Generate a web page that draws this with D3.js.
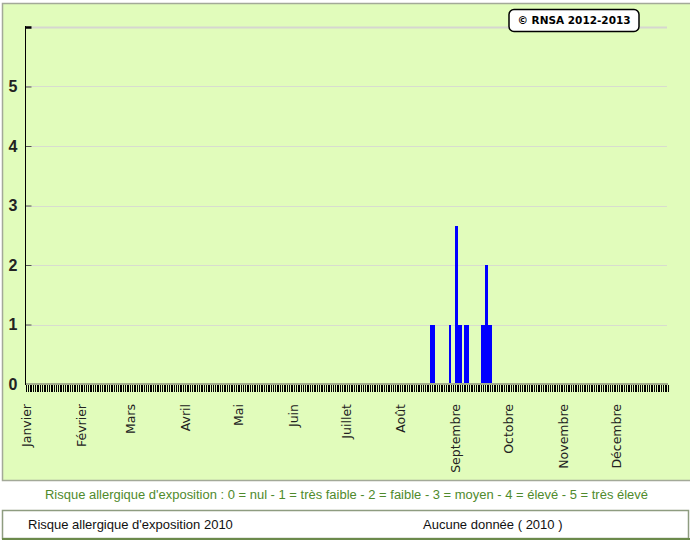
<!DOCTYPE html>
<html><head><meta charset="utf-8">
<script src="https://cdn.jsdelivr.net/npm/d3@7"></script>
<style>body{margin:0;background:#fff}svg{display:block}</style>
</head><body>
<svg id="c" width="690" height="541"></svg>
<script>
const yearStart = "2010-01-01", yearEnd = "2011-01-01";
const monthLabels = ["Janvier","Février","Mars","Avril","Mai","Juin","Juillet","Août","Septembre","Octobre","Novembre","Décembre"];
const riskDates = ["2010-08-18","2010-08-19","2010-08-20","2010-08-29","2010-09-01","2010-09-02","2010-09-03","2010-09-04","2010-09-06","2010-09-07","2010-09-08","2010-09-16","2010-09-17","2010-09-18","2010-09-19","2010-09-20","2010-09-21"];
const riskValues = [1,1,1,1,2.65,2.65,1,1,1,1,1,1,1,2,2,1,1];
const yTicks = [0,1,2,3,4,5,6];
const yTickLabels = ["0","1","2","3","4","5",""];
const legendText = "Risque allergique d'exposition : 0 = nul - 1 = très faible - 2 = faible - 3 = moyen - 4 = élevé - 5 = très élevé";
const footerLeft = "Risque allergique d'exposition 2010";
const footerRight = "Aucune donnée ( 2010 )";
const copyright = "© RNSA 2012-2013";

const parse = d3.utcParse("%Y-%m-%d");
const svg = d3.select("#c");
const x = d3.scaleUtc().domain([parse(yearStart), parse(yearEnd)]).range([26, 670]);
const y = d3.scaleLinear().domain([0, 6]).range([384, 27]);

// chart panel
svg.append("rect").attr("x", 2.5).attr("y", 3.5).attr("width", 700).attr("height", 477)
  .attr("fill", "#e1fcbb").attr("stroke", "#a3a998").attr("stroke-width", 1.5);

// gridlines
svg.append("g").selectAll("line").data(yTicks.filter(d => d > 0)).join("line")
  .attr("x1", 26).attr("x2", 667).attr("y1", d => Math.round(y(d)) + 0.5).attr("y2", d => Math.round(y(d)) + 0.5)
  .attr("stroke", d => d === 6 ? "#d6d6d0" : "#d8dccf").attr("stroke-width", d => d === 6 ? 2 : 1);

// y axis
const yAxis = d3.axisRight(y).tickValues(yTicks).tickSize(6).tickFormat("");
const gy = svg.append("g").attr("transform", "translate(25.5,0)").call(yAxis);
gy.select(".domain").remove();
gy.selectAll(".tick line").attr("stroke", d => d === 6 ? "#000" : "#555").attr("stroke-width", d => d === 6 ? 2.5 : 1);
svg.append("line").attr("x1", 25.5).attr("x2", 25.5).attr("y1", 26).attr("y2", 385)
  .attr("stroke", "#000").attr("stroke-width", 1);
svg.append("g").selectAll("text").data(yTicks).join("text")
  .attr("x", 17.5).attr("y", d => y(d)).attr("dy", "0.36em").attr("text-anchor", "end")
  .attr("font-family", "Liberation Sans, Arial, sans-serif").attr("font-weight", "bold").attr("font-size", 16)
  .attr("fill", "#222").text((d, i) => yTickLabels[i]);

// bars
const bars = riskDates.map((d, i) => ({date: parse(d), value: riskValues[i]}));
svg.append("g").attr("shape-rendering", "crispEdges").selectAll("rect").data(bars).join("rect")
  .attr("x", d => x(d.date)).attr("width", d => x(d3.utcDay.offset(d.date, 1)) - x(d.date))
  .attr("y", d => y(d.value)).attr("height", d => y(0) - y(d.value))
  .attr("fill", "#0000ff");

// baseline
svg.append("line").attr("x1", 26).attr("x2", 668).attr("y1", 384).attr("y2", 384)
  .attr("stroke", "#a3ae8c").attr("stroke-width", 2);

// daily ticks
const days = d3.utcDay.range(parse(yearStart), parse(yearEnd));
const xAxis = d3.axisBottom(x).tickValues(days).tickSize(7).tickFormat("");
const gx = svg.append("g").attr("transform", "translate(0,385)").call(xAxis);
gx.select(".domain").remove();
gx.selectAll(".tick line").attr("stroke", "#000").attr("shape-rendering", "crispEdges");

// month labels
const months = d3.utcMonth.range(parse(yearStart), parse(yearEnd));
svg.append("g").selectAll("text").data(months).join("text")
  .attr("transform", d => `translate(${x(d) + 1},404) rotate(-90)`)
  .attr("dy", "0.35em").attr("text-anchor", "end")
  .attr("font-family", "DejaVu Sans, Verdana, sans-serif").attr("font-size", 12.5)
  .attr("fill", "#222").text((d, i) => monthLabels[i]);

// copyright box
svg.append("rect").attr("x", 509).attr("y", 9.5).attr("width", 130).attr("height", 22).attr("rx", 5)
  .attr("fill", "#fff").attr("stroke", "#000").attr("stroke-width", 1.5);
svg.append("text").attr("x", 574).attr("y", 20.5).attr("dy", "0.35em").attr("text-anchor", "middle")
  .attr("font-family", "DejaVu Sans, Verdana, sans-serif").attr("font-weight", "bold").attr("font-size", 10.5)
  .attr("fill", "#000").text(copyright);

// caption
svg.append("text").attr("x", 45).attr("y", 495).attr("dy", "0.35em")
  .attr("textLength", 603).attr("lengthAdjust", "spacingAndGlyphs")
  .attr("font-family", "Liberation Sans, Arial, sans-serif").attr("font-size", 12.5)
  .attr("fill", "#4f8a2c").text(legendText);

// footer box
svg.append("rect").attr("x", 2.5).attr("y", 510.5).attr("width", 686).attr("height", 28)
  .attr("fill", "#fff").attr("stroke", "#8e9c80").attr("stroke-width", 1.5);
svg.append("line").attr("x1", 2).attr("x2", 690).attr("y1", 539).attr("y2", 539)
  .attr("stroke", "#6b8a4b").attr("stroke-width", 2);
svg.append("text").attr("x", 28).attr("y", 524).attr("dy", "0.35em")
  .attr("font-family", "Liberation Sans, Arial, sans-serif").attr("font-size", 13)
  .attr("fill", "#111").text(footerLeft);
svg.append("text").attr("x", 423).attr("y", 524).attr("dy", "0.35em")
  .attr("font-family", "Liberation Sans, Arial, sans-serif").attr("font-size", 13)
  .attr("fill", "#111").text(footerRight);
</script>
</body></html>
